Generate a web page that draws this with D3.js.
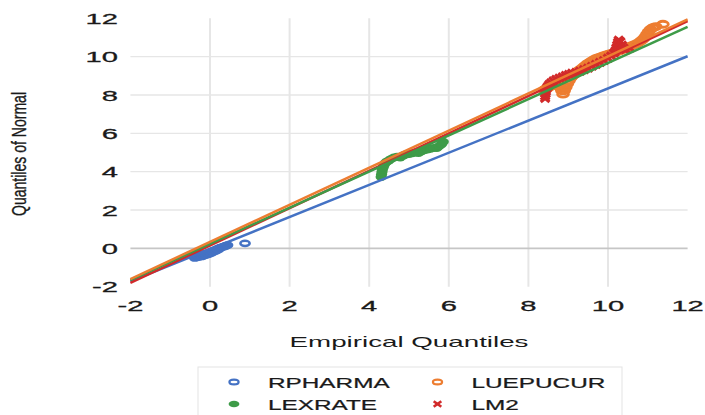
<!DOCTYPE html>
<html>
<head>
<meta charset="utf-8">
<script src="https://cdn.jsdelivr.net/npm/d3@7"></script>
<style>
  html, body { margin: 0; padding: 0; background: #ffffff; }
  svg { display: block; }
  text { font-family: "Liberation Sans", Arial, sans-serif; fill: #1a1a1a; }
</style>
</head>
<body>
<svg id="chart" width="705" height="415"></svg>
<script>
// Axis ticks
const xTicks = [-2, 0, 2, 4, 6, 8, 10, 12];
const yTicks = [-2, 0, 2, 4, 6, 8, 10, 12];

// Series names, in legend order
const seriesNames = ["RPHARMA", "LUEPUCUR", "LEXRATE", "LM2"];

// Q-Q points: [empirical quantile, normal quantile]
const rpharmaPts = [
  [-0.38,-0.50],[-0.36,-0.40],[-0.33,-0.46],[-0.30,-0.36],[-0.27,-0.44],[-0.24,-0.33],
  [-0.21,-0.42],[-0.18,-0.30],[-0.15,-0.38],[-0.12,-0.28],[-0.09,-0.34],[-0.06,-0.24],
  [-0.03,-0.30],[0.00,-0.20],[0.03,-0.24],[0.06,-0.14],[0.09,-0.18],[0.12,-0.09],
  [0.15,-0.12],[0.18,-0.03],[0.21,-0.06],[0.24,0.02],[0.28,0.04],[0.32,0.08],
  [0.36,0.10],[0.40,0.14],[0.44,0.17],[0.88,0.26]
];
const luepucurPts = [
  [8.40,8.25],[8.44,8.32],[8.48,8.36],[8.52,8.42],[8.56,8.46],[8.60,8.52],[8.65,8.55],
  [8.70,8.56],[8.75,8.48],[8.80,8.38],[8.84,8.22],[8.87,8.04],[8.90,8.22],[8.94,8.40],
  [8.98,8.58],[9.02,8.74],[9.06,8.88],[9.10,8.98],[9.15,9.08],[9.20,9.16],[9.25,9.24],
  [9.30,9.32],[9.36,9.42],[9.42,9.52],[9.48,9.62],[9.54,9.70],[9.60,9.78],[9.66,9.86],
  [9.72,9.92],[9.80,9.98],[9.88,10.04],[9.96,10.09],[10.04,10.14],[10.12,10.19],
  [10.20,10.24],[10.28,10.30],[10.36,10.36],[10.44,10.43],[10.52,10.50],[10.60,10.57],
  [10.68,10.64],[10.76,10.72],[10.83,10.82],[10.89,10.93],[10.94,11.05],[10.98,11.18],
  [11.02,11.30],[11.07,11.42],[11.13,11.51],[11.20,11.57],[11.38,11.69]
];
const lexratePts = [
  [4.30,3.72],[4.31,3.85],[4.32,3.98],[4.33,4.10],[4.35,4.22],[4.37,4.34],[4.40,4.44],
  [4.44,4.52],[4.49,4.58],[4.55,4.66],[4.62,4.74],[4.70,4.78],[4.78,4.74],[4.85,4.84],
  [4.92,4.90],[5.00,4.92],[5.08,4.96],[5.16,5.00],[5.24,4.98],[5.30,5.06],[5.38,5.12],
  [5.46,5.16],[5.54,5.20],[5.62,5.24],[5.70,5.24],[5.76,5.34],[5.82,5.44],[5.86,5.56]
];
const lm2Pts = [
  [8.42,7.82],[8.42,7.94],[8.43,8.06],[8.44,8.18],[8.45,8.30],[8.48,8.42],[8.52,8.54],
  [8.57,8.64],[8.63,8.74],[8.70,8.82],[8.78,8.88],[8.86,8.95],[8.94,9.02],[9.02,9.08],
  [9.10,9.14],[9.20,9.18],[9.30,9.24],[9.40,9.32],[9.50,9.40],[9.60,9.50],[9.70,9.60],
  [9.80,9.70],[9.90,9.80],[10.00,9.92],[10.08,10.04],[10.15,10.18],[10.19,10.32],
  [10.21,10.46],[10.23,10.60],[10.25,10.74],[10.27,10.86],[10.31,10.78],[10.35,10.60],
  [10.38,10.42],[10.45,10.36],[10.55,10.45]
];

// Reference lines: [x, y] at each end
const rpharmaLine  = [[-2, -1.72], [12, 10.02]];
const luepucurLine = [[-2, -1.60], [12, 11.95]];
const lexrateLine  = [[-2, -1.65], [12, 11.55]];
const lm2Line      = [[-2, -1.80], [12, 11.85]];

const colors = {
  RPHARMA: "#4472c4",
  LUEPUCUR: "#ed7d31",
  LEXRATE: "#3e9b48",
  LM2: "#d22a2a"
};

const svg = d3.select("#chart");
svg.append("rect").attr("width", 705).attr("height", 415).attr("fill", "#ffffff");

const x = d3.scaleLinear().domain([-2, 12]).range([130.4, 687.6]);
const y = d3.scaleLinear().domain([-2, 12]).range([286.7, 18.3]);

// Gridlines (interior only)
const grid = svg.append("g");
grid.selectAll("line.v").data(xTicks.filter(t => t > -2 && t < 12)).join("line")
  .attr("x1", d => x(d)).attr("x2", d => x(d))
  .attr("y1", y(12)).attr("y2", y(-2))
  .attr("stroke", "#e6e6e6").attr("stroke-width", 2);
grid.selectAll("line.h").data(yTicks.filter(t => t > -2 && t < 12)).join("line")
  .attr("x1", x(-2)).attr("x2", x(12))
  .attr("y1", d => y(d)).attr("y2", d => y(d))
  .attr("stroke", d => d === 0 ? "#c6c6c6" : "#e6e6e6")
  .attr("stroke-width", d => d === 0 ? 1.6 : 1.3);

// Tick labels (wide lettering)
const tickSX = 1.88;
svg.append("g").selectAll("text").data(yTicks).join("text")
  .attr("transform", d => `translate(118,${y(d)}) scale(${tickSX},1)`)
  .attr("text-anchor", "end").attr("dy", "0.36em")
  .attr("font-size", 15.5).attr("stroke", "#1a1a1a").attr("stroke-width", 0.3)
  .text(d => d);
svg.append("g").selectAll("text").data(xTicks).join("text")
  .attr("transform", d => `translate(${x(d)},311) scale(${tickSX},1)`)
  .attr("text-anchor", "middle")
  .attr("font-size", 15.5).attr("stroke", "#1a1a1a").attr("stroke-width", 0.3)
  .text(d => d);

// Axis titles
svg.append("text")
  .attr("transform", `translate(${(x(-2) + x(12)) / 2},346.5) scale(1.85,1)`)
  .attr("text-anchor", "middle").attr("font-size", 15)
  .text("Empirical Quantiles");
svg.append("text")
  .attr("transform", "translate(26,154) rotate(-90) scale(0.72,1)")
  .attr("text-anchor", "middle").attr("font-size", 19.5)
  .attr("stroke", "#1a1a1a").attr("stroke-width", 0.35)
  .text("Quantiles of Normal");

// Marker drawing helpers
function ring(g, data, color, rx, ry, sw) {
  g.selectAll(null).data(data).join("ellipse")
    .attr("cx", d => x(d[0])).attr("cy", d => y(d[1]))
    .attr("rx", rx).attr("ry", ry)
    .attr("fill", "none").attr("stroke", color).attr("stroke-width", sw);
}
function dot(g, data, color, rx, ry) {
  g.selectAll(null).data(data).join("ellipse")
    .attr("cx", d => x(d[0])).attr("cy", d => y(d[1]))
    .attr("rx", rx).attr("ry", ry).attr("fill", color);
}
function cross(g, data, color, hw, hh, sw) {
  const c = g.selectAll(null).data(data).join("g")
    .attr("transform", d => `translate(${x(d[0])},${y(d[1])})`);
  c.append("line").attr("x1", -hw).attr("y1", -hh).attr("x2", hw).attr("y2", hh)
    .attr("stroke", color).attr("stroke-width", sw);
  c.append("line").attr("x1", -hw).attr("y1", hh).attr("x2", hw).attr("y2", -hh)
    .attr("stroke", color).attr("stroke-width", sw);
}

const marks = svg.append("g");
ring(marks, rpharmaPts, colors.RPHARMA, 4.6, 2.6, 2.6);
ring(marks, luepucurPts, colors.LUEPUCUR, 5.4, 3.0, 2.8);
dot(marks, lexratePts, colors.LEXRATE, 5.6, 4.0);
cross(marks, lm2Pts, colors.LM2, 4.4, 3.6, 3.2);

// Reference lines
const line = d3.line().x(d => x(d[0])).y(d => y(d[1]));
const lines = svg.append("g").attr("fill", "none").attr("stroke-width", 2.5);
[[rpharmaLine, colors.RPHARMA], [lm2Line, colors.LM2],
 [lexrateLine, colors.LEXRATE], [luepucurLine, colors.LUEPUCUR]]
  .forEach(([pts, c]) => lines.append("path").attr("d", line(pts)).attr("stroke", c));

// Legend
const legend = svg.append("g");
legend.append("rect").attr("x", 198).attr("y", 367).attr("width", 424).attr("height", 60)
  .attr("fill", "none").attr("stroke", "#e3e3e3").attr("stroke-width", 1);
const legItems = [
  { name: seriesNames[0], col: 0, row: 0, kind: "ring", color: colors.RPHARMA },
  { name: seriesNames[1], col: 1, row: 0, kind: "ring", color: colors.LUEPUCUR },
  { name: seriesNames[2], col: 0, row: 1, kind: "dot", color: colors.LEXRATE },
  { name: seriesNames[3], col: 1, row: 1, kind: "cross", color: colors.LM2 }
];
legItems.forEach(it => {
  const mx = 234 + it.col * 203.5, my = 382 + it.row * 22;
  const g = legend.append("g");
  if (it.kind === "ring") ring(g, [[x.invert(mx), y.invert(my)]], it.color, 4.6, 2.4, 2.2);
  if (it.kind === "dot") dot(g, [[x.invert(mx), y.invert(my)]], it.color, 5.4, 3.2);
  if (it.kind === "cross") cross(g, [[x.invert(mx), y.invert(my)]], it.color, 3.8, 2.8, 2.6);
  legend.append("text")
    .attr("transform", `translate(${mx + 34},${my + 5.5}) scale(1.58,1)`)
    .attr("font-size", 15.4).attr("stroke", "#1a1a1a").attr("stroke-width", 0.25)
    .text(it.name);
});
</script>
</body>
</html>
